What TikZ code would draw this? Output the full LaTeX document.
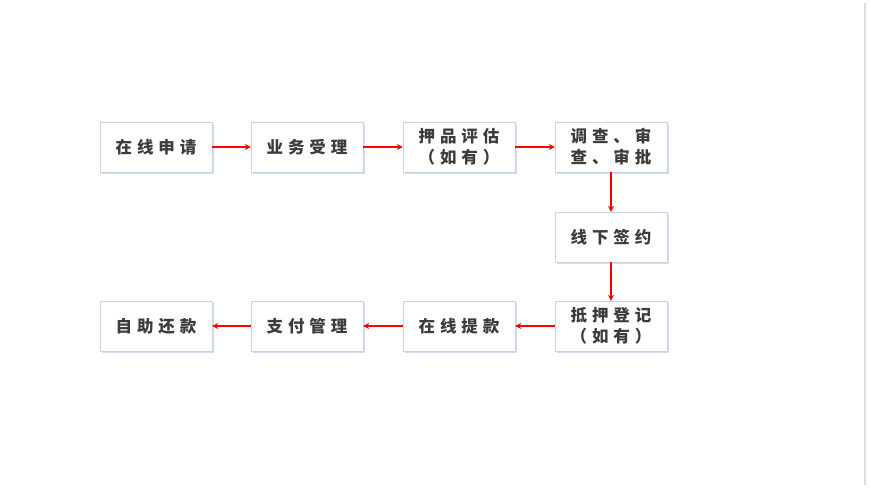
\documentclass[tikz,border=0pt]{standalone}
\usepackage{fontspec}
\usetikzlibrary{shadows,arrows.meta}
\newfontfamily\cjk[LetterSpace=30]{Noto Sans CJK SC}
\definecolor{boxline}{RGB}{200,212,228}
\definecolor{boxshadow}{RGB}{210,222,238}
\definecolor{txt}{RGB}{60,60,60}
\begin{document}
\begin{tikzpicture}[x=1pt,y=-1pt]
        \tikzset{stage/.style={draw=boxline, fill=white, minimum width=112pt, minimum height=50pt,
                inner sep=0pt, align=center, font=\cjk\bfseries\fontsize{16.5}{21}\selectfont, text=txt,
                drop shadow={shadow xshift=2pt, shadow yshift=-2pt, fill=boxshadow, opacity=1}},
                flow/.style={draw=red, line width=1.6pt, -{Stealth[length=6pt,width=6pt,fill=red!65!black]}}}
        \useasboundingbox (0,0) rectangle (869,487);
        \draw [gray!25, line width=1.5pt] (865,3) -- (865,485);
        \node [stage] (apply) at (156,147) {在线申请};
        \node [stage] (accept) at (307,147) {业务受理};
        \node [stage] (assess) at (459,147) {押品评估\\（如有）};
        \node [stage] (review) at (611,147) {调查、审\\查、审批};
        \node [stage] (sign) at (611,237) {线下签约};
        \node [stage] (pledge) at (611,326) {抵押登记\\（如有）};
        \node [stage] (draw) at (459,326) {在线提款};
        \node [stage] (pay) at (307,326) {支付管理};
        \node [stage] (repay) at (156,326) {自助还款};
        \draw [flow] (apply) -- (accept);
        \draw [flow] (accept) -- (assess);
        \draw [flow] (assess) -- (review);
        \draw [flow] (review) -- (sign);
        \draw [flow] (sign) -- (pledge);
        \draw [flow] (pledge) -- (draw);
        \draw [flow] (draw) -- (pay);
        \draw [flow] (pay) -- (repay);
\end{tikzpicture}
\end{document}
